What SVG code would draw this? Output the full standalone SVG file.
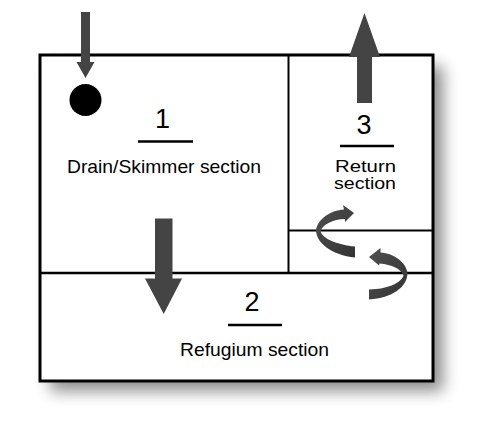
<svg xmlns="http://www.w3.org/2000/svg" width="500" height="432" viewBox="0 0 500 432">
  <defs>
    <filter id="shadow" x="-20%" y="-20%" width="140%" height="140%">
      <feGaussianBlur stdDeviation="8"/>
    </filter>
    <linearGradient id="rib" x1="0" y1="0" x2="1" y2="1">
      <stop offset="0" stop-color="#505050"/>
      <stop offset="1" stop-color="#333333"/>
    </linearGradient>
  </defs>
  <style>
    .wall { fill: none; stroke: #000; }
    .lbl { font-family: "Liberation Sans", Arial, sans-serif; fill: #000; text-anchor: middle; }
    .num { font-size: 27px; }
    .txt { font-size: 18.5px; }
    .sm { font-size: 16px; }
    .rule { stroke: #000; stroke-width: 2.5; }
    .arr { fill: #444; }
    .cur { fill: url(#rib); }
  </style>
  <rect width="500" height="432" fill="#fff"/>
  <rect x="50" y="66" width="393" height="325" fill="#000" opacity="0.45" filter="url(#shadow)"/>
  <g id="tank">
    <rect x="40" y="55" width="393" height="326" fill="#fff"/>
    <rect x="40" y="55" width="393" height="326" class="wall" stroke-width="3"/>
    <line class="wall" x1="288.5" y1="55" x2="288.5" y2="273" stroke-width="2"/>
    <line class="wall" x1="40" y1="273" x2="433" y2="273" stroke-width="2.5"/>
    <line class="wall" x1="288.5" y1="230.5" x2="433" y2="230.5" stroke-width="2"/>
  </g>
  <g id="section1">
    <circle cx="85.5" cy="100" r="16" fill="#000"/>
    <text class="lbl num" x="162.5" y="128">1</text>
    <line class="rule" x1="138" y1="141.5" x2="193" y2="141.5"/>
    <text class="lbl txt" x="164" y="173" textLength="194" lengthAdjust="spacingAndGlyphs">Drain/Skimmer section</text>
  </g>
  <g id="section2">
    <text class="lbl num" x="252" y="311">2</text>
    <line class="rule" x1="228" y1="325" x2="282" y2="325"/>
    <text class="lbl txt" x="254.5" y="355.5" textLength="149" lengthAdjust="spacingAndGlyphs">Refugium section</text>
  </g>
  <g id="section3">
    <text class="lbl num" x="364" y="134">3</text>
    <line class="rule" x1="340" y1="146" x2="394" y2="146"/>
    <text class="lbl sm" x="365.5" y="172" textLength="61" lengthAdjust="spacingAndGlyphs">Return</text>
    <text class="lbl sm" x="365" y="189" textLength="62" lengthAdjust="spacingAndGlyphs">section</text>
  </g>
  <g id="connectors">
    <polygon class="arr" points="81,12 90,12 90,62 94.5,62 85.5,78 76.5,62 81,62"/>
    <polygon class="arr" points="357,103 372,103 372,57 380,57 364.5,13 349,57 357,57"/>
    <polygon class="arr" points="155,218.5 172.5,218.5 172.5,278.5 182,278.5 163.7,314 145,278.5 155,278.5"/>
    <path class="cur" d="M 354,213 L 343,205 L 344,209.5 C 330,210.5 318,219 316,230 C 316,243 332,255 355,257.5 L 355,246.5 C 338,245 323,239 320.5,231.5 C 322.5,224 333,219.5 345,219 L 345,222 Z"/>
    <path class="cur" d="M 369,257 L 380.5,248 L 380.5,252.5 C 394,253.5 406,262 407.5,273 C 407.5,287 392,298 369,299.5 L 369,289.5 C 388,289 401,283 403.5,275.5 C 401,269 392,264.5 379.5,263.5 L 379,265.5 Z"/>
  </g>
</svg>
